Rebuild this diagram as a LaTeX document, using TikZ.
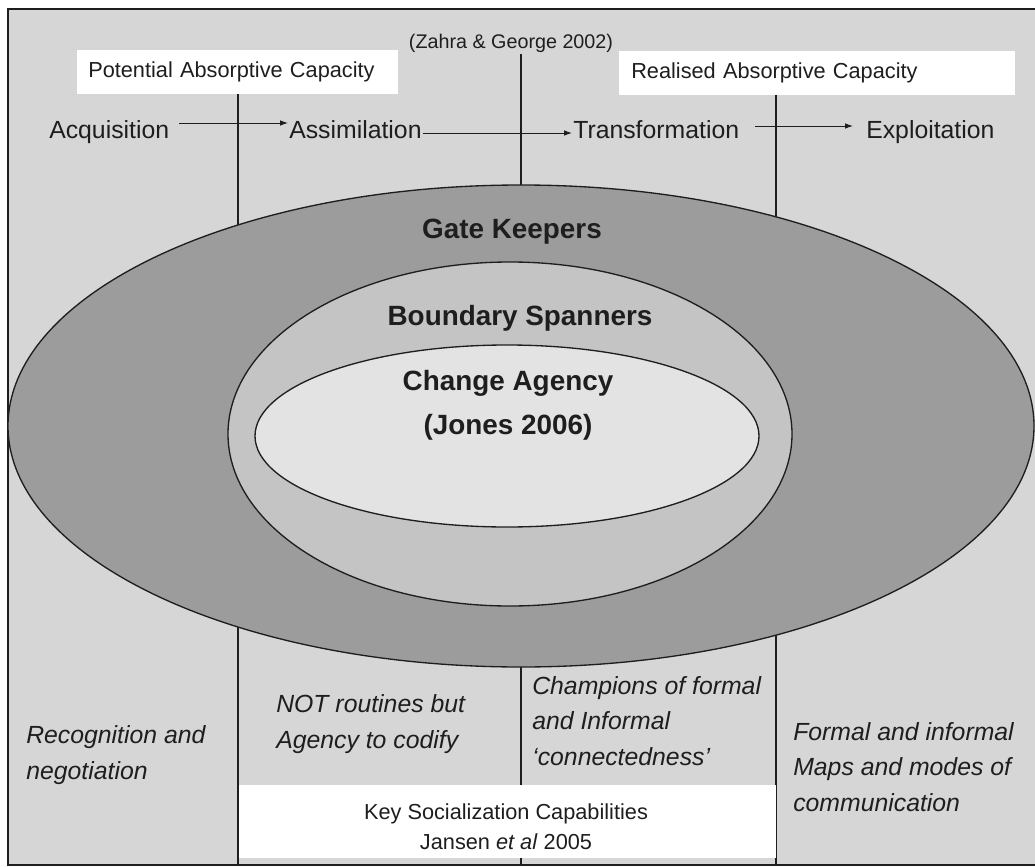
\documentclass[tikz,border=0pt]{standalone}
\usepackage{fontspec}
\setmainfont{Liberation Sans}
\usetikzlibrary{arrows.meta,calc}
\definecolor{bgc}{HTML}{D6D6D6}
\definecolor{outerc}{HTML}{9C9C9C}
\definecolor{midc}{HTML}{C4C4C4}
\definecolor{innerc}{HTML}{E3E3E3}
\definecolor{inkc}{HTML}{1E1E1E}
\begin{document}
\begin{tikzpicture}[x=0.75pt,y=-0.75pt,
  rowtxt/.style={inner sep=0pt, anchor=base west, font=\fontsize{18.6}{26}\selectfont, text=inkc},
  ittxt/.style={inner sep=0pt, anchor=west, align=left, font=\fontsize{18.6}{26.5}\selectfont\itshape, text=inkc},
  bigtxt/.style={inner sep=0pt, align=center, font=\fontsize{20.9}{33}\selectfont\bfseries, text=inkc},
  capbox/.style={fill=white, draw=none, inner ysep=0pt, minimum height=32.5pt, anchor=north west, align=left, font=\fontsize{16.3}{20}\selectfont, text=inkc},
  vline/.style={draw=inkc, line width=0.8pt},
  ring/.style={draw=inkc, line width=1pt},
  arr/.style={draw=inkc, line width=0.75pt, -{Latex[length=6pt,width=4.2pt]}}
]
\useasboundingbox (0,0) rectangle (1035,867);
\fill[white] (0,0) rectangle (1035,867);
\fill[bgc] (8,9) rectangle (1035,865);
\draw[draw=inkc, line width=1.2pt] (1035,9) -- (8,9) -- (8,865) -- (1035,865);

% top caption boxes and citation
\node[capbox, inner xsep=8.25pt, text width=224.25pt] (pot) at (77,50) {Potential Absorptive Capacity};
\node[capbox, inner xsep=9pt, text width=279pt] (real) at (619,51) {Realised Absorptive Capacity};
\node[inner sep=1.5pt, font=\fontsize{14.8}{17}\selectfont, text=inkc] (zahra) at (511,43) {(Zahra \& George 2002)};

% bottom coordinates of the vertical dividers
\coordinate (b1) at (238,865);
\coordinate (b2) at (521,865);
\coordinate (b3) at (776,865);
\draw[vline] (pot.south -| b1) -- (b1);
\draw[vline] (zahra.south -| b2) -- (b2);
\draw[vline] (real.south -| b3) -- (b3);

% nested ellipses
\path[ring, fill=outerc] (521,426) ellipse [x radius=513, y radius=241];
\path[ring, fill=midc] (510,434) ellipse [x radius=282, y radius=172];
\path[ring, fill=innerc] (507,436) ellipse [x radius=252, y radius=91];

\node[bigtxt] (gk) at (512,232) {Gate Keepers};
\node[bigtxt] (bs) at (520,318) {Boundary Spanners};
\node[bigtxt] (ca) at (508,405) {Change Agency\\(Jones 2006)};

% process row
\node[rowtxt] (acq) at (49,138) {Acquisition};
\node[rowtxt] (assim) at (289,138) {Assimilation};
\node[rowtxt] (trans) at (573,138) {Transformation};
\node[rowtxt] (expl) at (866,138) {Exploitation};
\draw[arr] ($(acq.base east)+(10,-15)$) -- ($(assim.base west)+(-1,-15)$);
\draw[arr] ($(assim.base east)+(1,-5)$) -- ($(trans.base west)+(-1,-5)$);
\draw[arr] ($(trans.base east)+(16,-12)$) -- ($(expl.base west)+(-13,-12)$);

% bottom key box
\node[fill=white, draw=none, minimum width=402.75pt, minimum height=54.75pt, inner sep=0pt] (keybox) at (507,821.5) {};
\node[inner sep=0pt, align=center, font=\fontsize{16.3}{22.5}\selectfont, text=inkc] (keytxt) at (506,827) {Key Socialization Capabilities\\Jansen \textit{et al} 2005};

% bottom italic notes
\node[ittxt] (rec) at (26,755) {Recognition and\\negotiation};
\node[ittxt] (notr) at (276,724) {NOT routines but\\Agency to codify};
\node[ittxt] (champ) at (532,721) {Champions of formal\\and Informal\\‘connectedness’};
\node[ittxt] (formal) at (793,767) {Formal and informal\\Maps and modes of\\communication};
\end{tikzpicture}
\end{document}
